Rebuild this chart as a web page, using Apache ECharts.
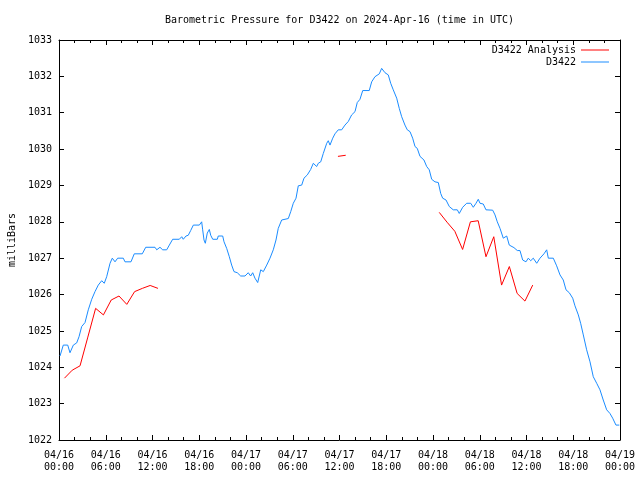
<!DOCTYPE html>
<html><head><meta charset="utf-8">
<script src="https://cdn.jsdelivr.net/npm/echarts@6/dist/echarts.min.js"></script>
<style>html,body{margin:0;padding:0;background:#fff}#c{width:640px;height:480px}</style>
</head><body><div id="c"></div>
<script>
// ---- data (hours since 2024-04-16 00:00 UTC) ----
const titleText = 'Barometric Pressure for D3422 on 2024-Apr-16 (time in UTC)';
const yAxisName = 'milliBars';
const xTickLabels = ['04/16\n00:00','04/16\n06:00','04/16\n12:00','04/16\n18:00','04/17\n00:00','04/17\n06:00','04/17\n12:00','04/17\n18:00','04/18\n00:00','04/18\n06:00','04/18\n12:00','04/18\n18:00','04/19\n00:00'];

const blueName = 'D3422';
const blueTime = [0.13,0.32,0.55,1.12,1.41,1.84,2.27,2.57,2.91,3.34,
3.76,4.20,4.62,5.04,5.48,5.81,6.12,6.55,6.84,7.19,
7.53,8.25,8.47,9.24,9.66,10.69,11.13,12.32,12.54,12.96,
13.31,13.82,14.16,14.59,15.44,15.75,15.95,16.30,16.59,16.90,
17.24,18.01,18.31,18.44,18.61,18.78,19.03,19.29,19.47,19.73,
20.32,20.44,21.01,21.18,21.52,21.86,22.16,22.46,22.88,23.32,
23.87,24.29,24.60,24.86,25.15,25.50,25.89,26.22,26.66,27.08,
27.50,27.85,28.14,28.58,28.79,29.43,29.74,30.07,30.42,30.71,
31.15,31.44,31.87,32.30,32.64,33.07,33.28,33.59,33.92,34.36,
34.56,34.78,35.13,35.42,35.84,36.28,36.70,37.13,37.56,37.99,
38.28,38.63,38.98,39.82,40.13,40.55,41.11,41.41,41.62,41.84,
42.26,42.57,42.90,43.34,43.67,43.98,44.40,44.70,45.05,45.39,
45.69,45.98,46.33,46.84,47.19,47.52,47.83,48.25,48.68,48.99,
49.24,49.67,50.09,50.60,51.12,51.37,51.81,52.32,52.84,53.17,
53.52,53.81,54.03,54.45,54.80,55.66,55.96,56.25,56.60,57.02,
57.46,57.79,58.39,58.82,59.16,59.51,59.93,60.23,60.54,60.87,
61.31,61.73,62.24,62.59,62.80,63.44,63.87,64.30,64.72,65.07,
65.49,65.93,66.22,66.65,66.95,67.29,67.72,68.15,68.57,69.01,
69.43,69.85,70.29,70.71,71.06,71.48,71.91];
const bluePress = [1024.31,1024.31,1024.61,1024.61,1024.40,1024.61,1024.67,1024.84,1025.12,1025.23,
1025.58,1025.87,1026.08,1026.26,1026.38,1026.31,1026.49,1026.86,1027.00,1026.90,
1027.00,1027.00,1026.90,1026.90,1027.12,1027.12,1027.30,1027.30,1027.23,1027.30,
1027.23,1027.23,1027.36,1027.52,1027.52,1027.59,1027.52,1027.61,1027.63,1027.76,
1027.91,1027.91,1028.00,1027.78,1027.50,1027.41,1027.69,1027.79,1027.63,1027.52,
1027.52,1027.61,1027.61,1027.45,1027.27,1027.04,1026.81,1026.63,1026.60,1026.51,
1026.51,1026.60,1026.51,1026.60,1026.45,1026.33,1026.68,1026.63,1026.81,1027.00,
1027.23,1027.50,1027.82,1028.05,1028.09,1028.09,1028.28,1028.51,1028.65,1028.99,
1029.01,1029.20,1029.29,1029.44,1029.61,1029.52,1029.61,1029.65,1029.88,1030.16,
1030.23,1030.11,1030.30,1030.42,1030.53,1030.53,1030.66,1030.76,1030.94,1031.03,
1031.28,1031.37,1031.61,1031.61,1031.85,1031.99,1032.07,1032.22,1032.22,1032.10,
1032.04,1031.81,1031.63,1031.40,1031.12,1030.89,1030.66,1030.53,1030.48,1030.30,
1030.07,1030.02,1029.80,1029.70,1029.52,1029.43,1029.17,1029.10,1029.08,1028.78,
1028.65,1028.60,1028.42,1028.33,1028.33,1028.23,1028.40,1028.51,1028.51,1028.40,
1028.51,1028.62,1028.51,1028.49,1028.33,1028.32,1028.19,1028.00,1027.82,1027.55,
1027.61,1027.36,1027.29,1027.21,1027.21,1026.95,1026.90,1027.00,1026.93,1027.00,
1026.86,1027.00,1027.12,1027.23,1027.00,1027.00,1026.79,1026.54,1026.40,1026.13,
1026.05,1025.90,1025.69,1025.44,1025.21,1024.89,1024.48,1024.15,1023.74,1023.56,
1023.38,1023.10,1022.83,1022.73,1022.60,1022.41,1022.41];

const redName = 'D3422 Analysis';
const redTime = [0.7,1.7,2.7,3.7,4.7,5.7,6.7,7.7,8.7,9.7,10.7,11.7,12.7, null,
35.8,36.8, null,
48.8,49.8,50.8,51.8,52.8,53.8,54.8,55.8,56.8,57.8,58.8,59.8,60.8];
const redPress = [1023.70,1023.92,1024.04,1024.83,1025.62,1025.44,1025.85,1025.96,1025.73,1026.08,1026.17,1026.25,1026.17, null,
1029.80,1029.83, null,
1028.26,1027.99,1027.74,1027.24,1028.00,1028.03,1027.04,1027.59,1026.26,1026.77,1026.03,1025.82,1026.26];

// ---- build ----
const FONT = '"DejaVu Sans Mono", "Liberation Mono", monospace';
const blueData = blueTime.map((t, i) => [t, bluePress[i]]);
const redData = redTime.map((t, i) => (t === null ? ['-', '-'] : [t, redPress[i]]));

const baseX = {
  type: 'value', min: 0, max: 72, interval: 6,
  axisLine: { onZero: false, lineStyle: { color: '#000', width: 1 } },
  axisTick: { inside: true, length: 5, lineStyle: { color: '#000', width: 1 } },
  minorTick: { show: true, splitNumber: 3, length: 3, lineStyle: { color: '#000', width: 1 } },
  splitLine: { show: false }, minorSplitLine: { show: false }
};
const baseY = {
  type: 'value', min: 1022, max: 1033, interval: 1, scale: true,
  axisLine: { show: true, onZero: false, lineStyle: { color: '#000', width: 1 } },
  axisTick: { show: true, inside: true, length: 5, lineStyle: { color: '#000', width: 1 } },
  splitLine: { show: false }
};

const chart = echarts.init(document.getElementById('c'), null, { renderer: 'canvas' });
chart.setOption({
  animation: false,
  backgroundColor: '#fff',
  title: {
    text: titleText, left: 339.5, top: 15, textAlign: 'center', padding: 0,
    textStyle: { fontFamily: FONT, fontSize: 10, fontWeight: 'normal', color: '#000' }
  },
  legend: {
    data: [redName, blueName], orient: 'vertical', right: 31, top: 44, padding: 0,
    align: 'right', icon: 'rect', itemWidth: 28, itemHeight: 1, itemGap: 0,
    itemStyle: { borderWidth: 0 },
    textStyle: { fontFamily: FONT, fontSize: 10, color: '#000', lineHeight: 12 }
  },
  grid: { left: 59, right: 20, top: 40, bottom: 40, containLabel: false, outerBoundsMode: 'none' },
  xAxis: [
    Object.assign({}, baseX, {
      position: 'bottom',
      axisLabel: {
        formatter: v => xTickLabels[Math.round(v / 6)], fontFamily: FONT, fontSize: 10,
        color: '#000', margin: 9, lineHeight: 12, showMinLabel: true, showMaxLabel: true
      }
    }),
    Object.assign({}, baseX, { position: 'top', axisLabel: { show: false } })
  ],
  yAxis: [
    Object.assign({}, baseY, {
      position: 'left', name: yAxisName, nameLocation: 'middle', nameRotate: 90, nameGap: 42,
      nameTextStyle: { fontFamily: FONT, fontSize: 10, color: '#000' },
      axisLabel: { formatter: v => String(v), fontFamily: FONT, fontSize: 10, color: '#000', margin: 7 }
    }),
    Object.assign({}, baseY, { position: 'right', axisLabel: { show: false } })
  ],
  series: [
    {
      name: redName, type: 'line', xAxisIndex: 0, yAxisIndex: 0, data: redData,
      showSymbol: false, symbol: 'none', connectNulls: false,
      lineStyle: { color: '#ff0000', width: 1 }, itemStyle: { color: '#ff0000' }
    },
    {
      name: blueName, type: 'line', xAxisIndex: 0, yAxisIndex: 0, data: blueData,
      showSymbol: false, symbol: 'none',
      lineStyle: { color: '#1a8cff', width: 1 }, itemStyle: { color: '#1a8cff' }
    }
  ]
});
</script>
</body></html>
